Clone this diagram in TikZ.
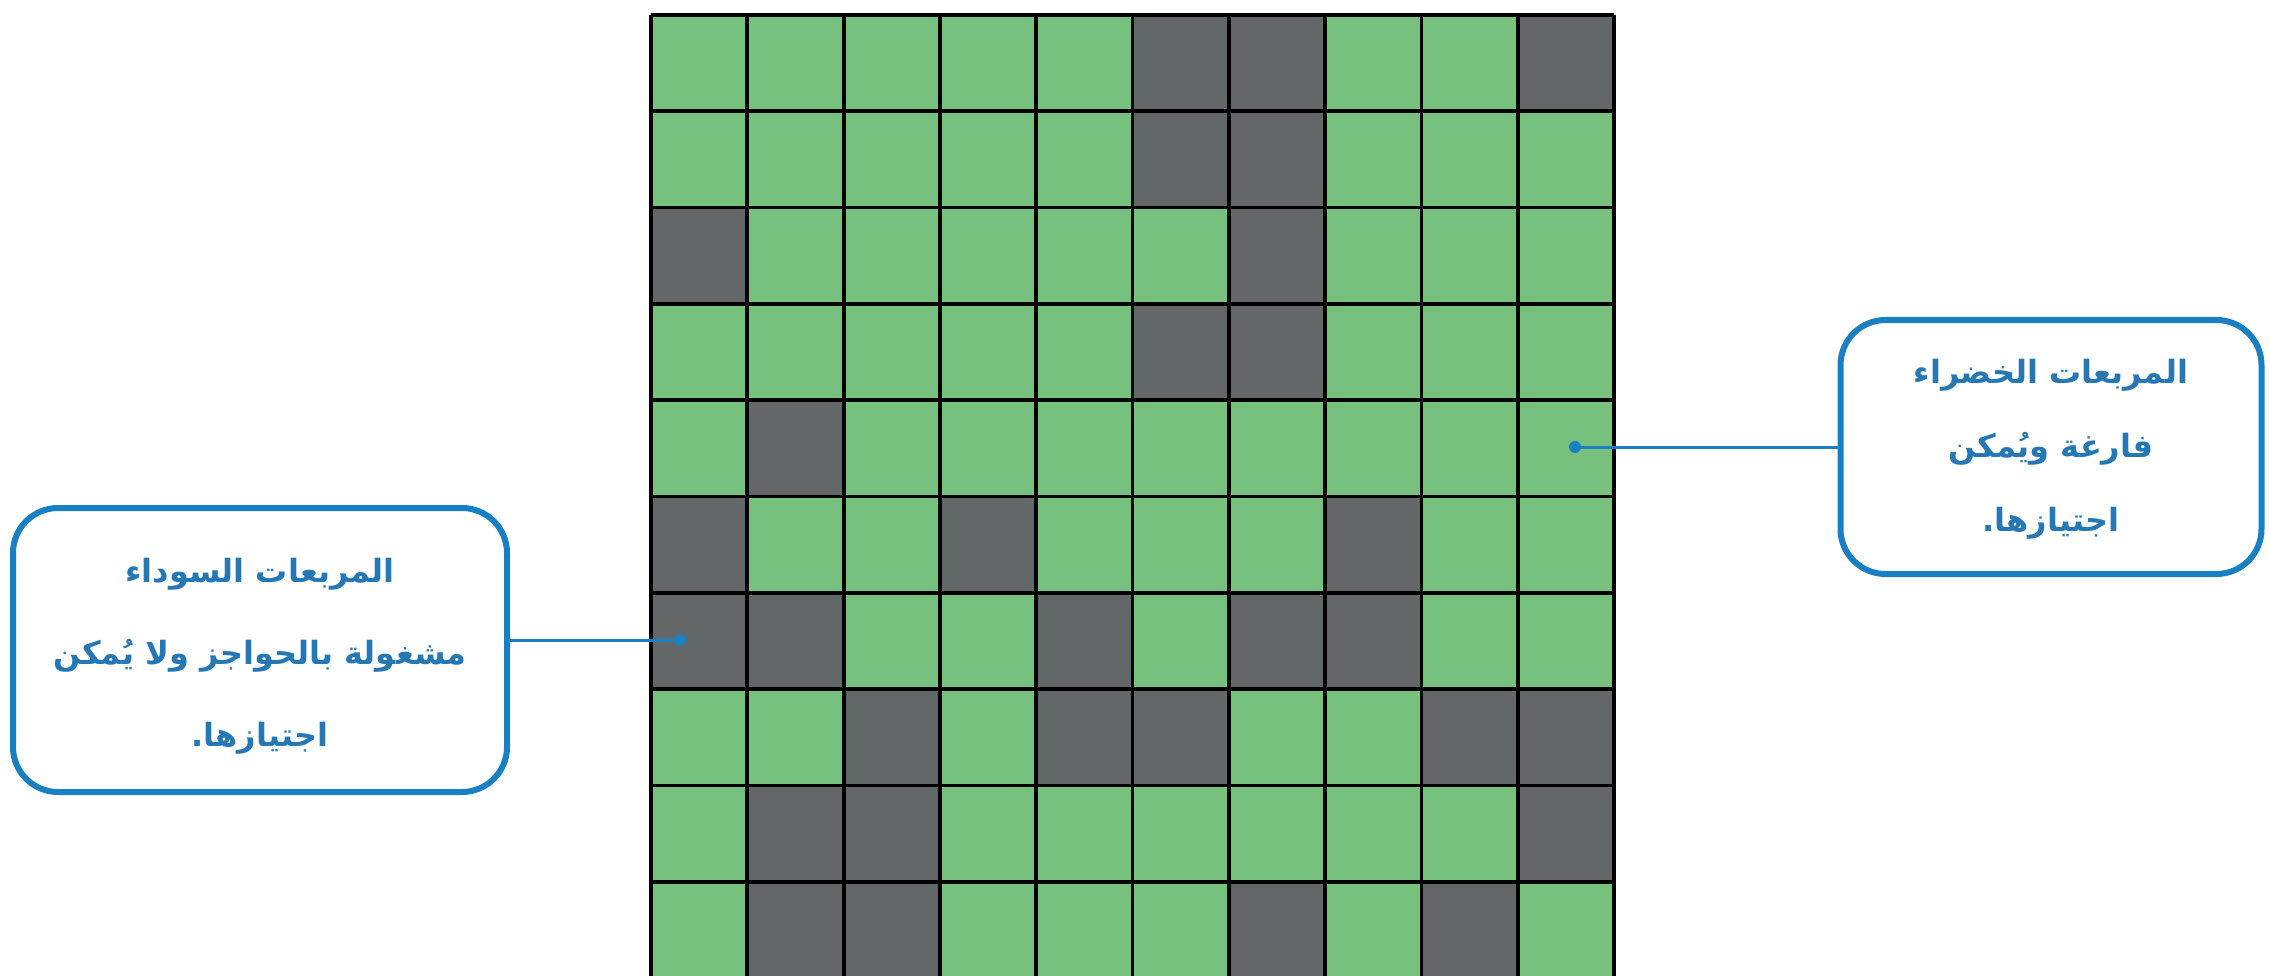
\documentclass[tikz,border=0pt]{standalone}
\usepackage{fontspec}
\newfontfamily\arabicfont[Script=Arabic]{DejaVu Sans}
\TeXXeTstate=1
\definecolor{G}{RGB}{118,193,126}
\definecolor{D}{RGB}{99,103,103}
\definecolor{callblue}{RGB}{24,128,194}
\definecolor{textblue}{RGB}{38,120,180}
\begin{document}
\begin{tikzpicture}[x=1pt,y=-1pt,
  gridline/.style={line width=3.8pt,black},
  callout/.style={draw=callblue,line width=6pt,rounded corners=45pt,fill=white,align=center,text=textblue,inner sep=0pt},
  link/.style={draw=callblue,line width=3pt},
  dotmark/.style={fill=callblue}]
\useasboundingbox (0,0) rectangle (2270,976);
\fill[white] (0,0) rectangle (2270,976);
% cells
\foreach \r/\row in {
 1/{G,G,G,G,G,D,D,G,G,D},
 2/{G,G,G,G,G,D,D,G,G,G},
 3/{D,G,G,G,G,G,D,G,G,G},
 4/{G,G,G,G,G,D,D,G,G,G},
 5/{G,D,G,G,G,G,G,G,G,G},
 6/{D,G,G,D,G,G,G,D,G,G},
 7/{D,D,G,G,D,G,D,D,G,G},
 8/{G,G,D,G,D,D,G,G,D,D},
 9/{G,D,D,G,G,G,G,G,G,D},
 10/{G,D,D,G,G,G,D,G,D,G}}{
  \foreach \col [count=\c] in \row {
    \fill[\col] ({651+96.3*(\c-1)},{15+96.3*(\r-1)}) rectangle ({651+96.3*\c},{15+96.3*\r});
  }
}
\foreach \i in {0,...,10}{
  \draw[gridline] ({651+96.3*\i},15) -- ({651+96.3*\i},978);
  \draw[gridline] (651,{15+96.3*\i}) -- (1614,{15+96.3*\i});
}
% callouts
\node[callout,minimum width=494pt,minimum height=284pt] (lbox) at (260,650) {};
\node[align=center,text=textblue,inner sep=0pt,
  font=\arabicfont\bfseries\fontsize{32}{82}\selectfont] (ltext) at (260,656)
 {\beginR المربعات السوداء\endR\\
  \beginR مشغولة بالحواجز ولا يُمكن\endR\\
  \beginR اجتيازها.\endR};
\node[callout,minimum width=421pt,minimum height=254pt] (rbox) at (2051,447) {};
\node[align=center,text=textblue,inner sep=0pt,
  font=\arabicfont\bfseries\fontsize{32}{74}\selectfont] (rtext) at (2051,449)
 {\beginR المربعات الخضراء\endR\\
  \beginR فارغة ويُمكن\endR\\
  \beginR اجتيازها.\endR};
\coordinate (ldot) at (680,640);
\coordinate (rdot) at (1575,447);
\draw[link] (ldot -| lbox.east) -- (ldot);
\draw[link] (rdot -| rbox.west) -- (rdot);
\fill[dotmark] (ldot) circle (6);
\fill[dotmark] (rdot) circle (6);
\end{tikzpicture}
\end{document}
